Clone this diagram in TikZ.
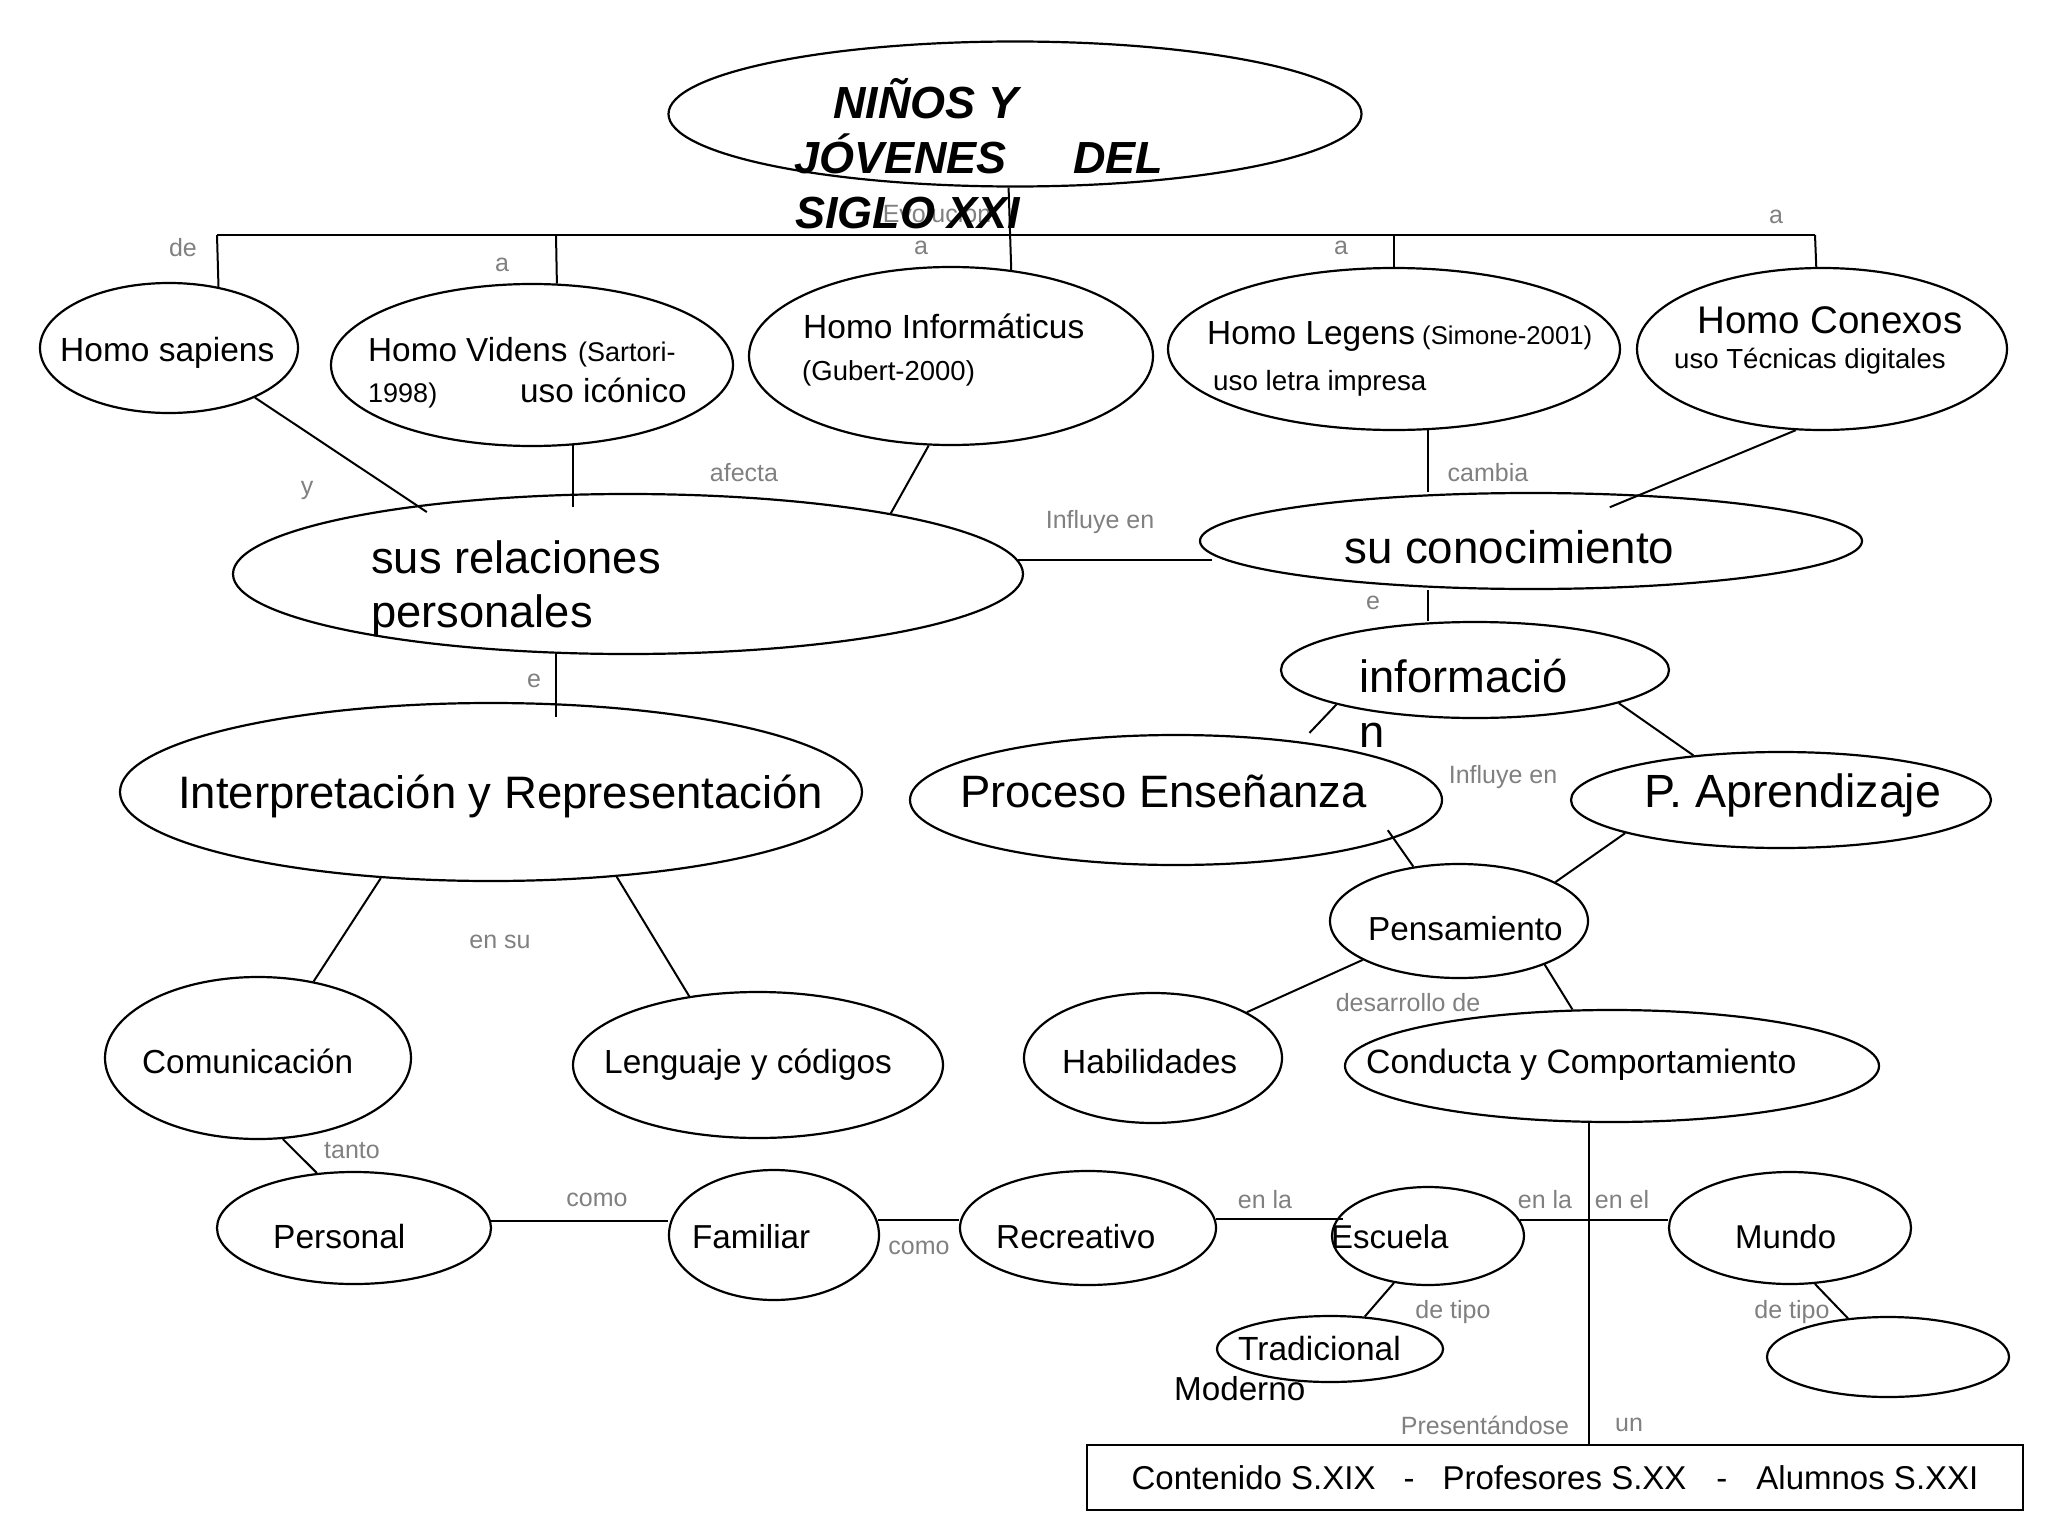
\documentclass[tikz,border=0pt]{standalone}
\usepackage{fontspec}
\setmainfont{Liberation Sans}
\usetikzlibrary{shapes.geometric}
\definecolor{labgray}{RGB}{128,128,128}
\begin{document}
\begin{tikzpicture}[x=1pt,y=-1pt,
  ell/.style={draw, ellipse, inner sep=0pt, line width=2.2pt},
  tx/.style={inner sep=0pt, anchor=base west},
  fs/.style={font=\fontsize{#1}{#1}\selectfont},
  lab/.style={inner sep=0pt, text=labgray, font=\fontsize{25}{30}\selectfont},
  conn/.style={line width=2pt},
  barline/.style={line width=2.6pt}]
\useasboundingbox (0,0) rectangle (2048,1536);

% ---------- ellipses ----------
\node[ell, minimum width=693pt, minimum height=145pt] (title) at (1015,114) {};
\node[ell, minimum width=258pt, minimum height=130pt] (hsap) at (169,348) {};
\node[ell, minimum width=402pt, minimum height=162pt] (hvid) at (532,365) {};
\node[ell, minimum width=404pt, minimum height=178pt] (hinf) at (951,356) {};
\node[ell, minimum width=452pt, minimum height=162pt] (hleg) at (1394,349) {};
\node[ell, minimum width=370pt, minimum height=162pt] (hcon) at (1822,349) {};
\node[ell, minimum width=790pt, minimum height=160pt] (rel) at (628,574) {};
\node[ell, minimum width=662pt, minimum height=96pt] (con) at (1531,541) {};
\node[ell, minimum width=388pt, minimum height=96pt] (info) at (1475,670) {};
\node[ell, minimum width=742pt, minimum height=178pt] (interp) at (491,792) {};
\node[ell, minimum width=532pt, minimum height=130pt] (proc) at (1176,800) {};
\node[ell, minimum width=420pt, minimum height=96pt] (apr) at (1781,800) {};
\node[ell, minimum width=258pt, minimum height=114pt] (pens) at (1459,921) {};
\node[ell, minimum width=258pt, minimum height=130pt] (hab) at (1153,1058) {};
\node[ell, minimum width=534pt, minimum height=112pt] (cond) at (1612,1066) {};
\node[ell, minimum width=306pt, minimum height=162pt] (com) at (258,1058) {};
\node[ell, minimum width=370pt, minimum height=146pt] (leng) at (758,1065) {};
\node[ell, minimum width=274pt, minimum height=112pt] (pers) at (354,1228) {};
\node[ell, minimum width=210pt, minimum height=130pt] (fam) at (774,1235) {};
\node[ell, minimum width=256pt, minimum height=114pt] (rec) at (1088,1228) {};
\node[ell, minimum width=192pt, minimum height=98pt] (esc) at (1428,1236) {};
\node[ell, minimum width=242pt, minimum height=112pt] (mundo) at (1790,1228) {};
\node[ell, minimum width=226pt, minimum height=66pt] (trad) at (1330,1349) {};
\node[ell, minimum width=242pt, minimum height=80pt] (empty) at (1888,1357) {};
\node[draw, line width=2.2pt, minimum width=936pt, minimum height=65pt, inner sep=0pt, fs=33] (box) at (1555,1477.5)
  {Contenido S.XIX\hspace{28pt}-\hspace{28pt}Profesores S.XX\hspace{30pt}-\hspace{29pt}Alumnos S.XXI};

% ---------- top bar ----------
\coordinate (barL) at (217,235);
\coordinate (b2) at (556,235);
\coordinate (b4) at (1394,235);
\coordinate (barR) at (1815,235);
\draw[barline] (barL) -- (barR);
\draw[conn] (barL) -- (hsap.51.5);
\draw[conn] (b2) -- (hvid.73.4);
\draw[conn] (title.-95.1) -- (hinf.55.8);
\draw[conn] (b4) -- (hleg.north);
\draw[conn] (barR) -- (hcon.94.9);

% ---------- connectors ----------
\draw[conn, shorten >=-12pt] (hsap.-30.3) -- (rel.162.3);
\draw[conn, shorten >=-14pt] (hvid.-63.7) -- (hvid.-63.7 |- rel.north);
\draw[conn] (hinf.-104.8) -- (rel.13.7);
\draw[conn, shorten >=-13pt] (rel.2.4) -- (rel.2.4 -| con.west);
\draw[conn] (hleg.-67.6) -- (hleg.-67.6 |- con.north);
\draw[conn] (hleg.-67.6 |- con.south) -- (hleg.-67.6 |- info.north);
\draw[conn, shorten >=-33pt] (hcon.252.6) -- (con.23.7);
\draw[conn, shorten >=12pt] (info.194.8) -- (proc.25.1);
\draw[conn] (info.-13.2) -- (apr.153.7);
\draw[conn, shorten <=-10pt] (proc.-10.7) -- (pens.130);
\draw[conn] (apr.192.8) -- (pens.22.9);
\draw[conn] (pens.202.9) -- (hab.26.6);
\draw[conn] (pens.-27.1) -- (cond.125.5);
\draw[conn] (cond.-112.3) -- (cond.-112.3 |- box.north);
\draw[conn] (esc.10.7) -- (esc.10.7 -| mundo.west);
\draw[conn] (pers.3.8) -- (pers.3.8 -| fam.west);
\draw[conn] (fam.8.9) -- (fam.8.9 -| rec.west);
\draw[conn, shorten >=-12pt] (rec.4.1) -- (rec.4.1 -| esc.west);
\draw[conn] (com.-73.3) -- (pers.124.9);
\draw[conn] (interp.218.5) -- (com.54.9);
\draw[conn] (interp.-34.9) -- (leng.135.4);
\draw[conn, shorten >=-15pt] (rel.-132.5) -- (rel.-132.5 |- interp.north);
\draw[conn] (esc.234.5) -- (trad.43.3);
\draw[conn] (mundo.-66.8) -- (empty.136.4);

% ---------- labels ----------
\node[lab] (l1) at (183,248) {de};
\node[lab] (l2) at (502,265) {a};
\node[lab] (l3) at (921,248) {a};
\node[lab] (l4) at (937,213) {Evolución};
\node[lab] (l5) at (1341,248) {a};
\node[lab] (l6) at (1776,217) {a};
\node[lab] (l7) at (307,490) {y};
\node[lab] (l8) at (744,473) {afecta};
\node[lab] (l9) at (1100,522) {Influye en};
\node[lab] (l10) at (1488,473) {cambia};
\node[lab] (l11) at (534,681) {e};
\node[lab] (l12) at (1373,603) {e};
\node[lab] (l13) at (1503,777) {Influye en};
\node[lab] (l14) at (500,942) {en su};
\node[lab] (l15) at (1408,1003) {desarrollo de};
\node[lab] (l16) at (352,1151) {tanto};
\node[lab] (l17) at (597,1200) {como};
\node[lab] (l18) at (919,1248) {como};
\node[lab] (l19) at (1265,1200) {en la};
\node[lab] (l20) at (1545,1200) {en la};
\node[lab] (l21) at (1622,1200) {en el};
\node[lab] (l22) at (1453,1312) {de tipo};
\node[lab] (l23) at (1792,1312) {de tipo};
\node[lab] (l24) at (1485,1425) {Presentándose};
\node[lab] (l25) at (1629,1425) {un};

% ---------- texts ----------
\begin{scope}[every node/.append style={font=\bfseries\itshape\fontsize{45}{54}\selectfont}]
\node[tx] (tt1) at (833,119) {NIÑOS Y};
\node[tx] (tt2) at (794,173) {JÓVENES};
\node[tx] (tt3) at (1073,173) {DEL};
\node[tx] (tt4) at (795,228) {SIGLO XXI};
\end{scope}
\node[tx, fs=33.5] (x1) at (60,361) {Homo sapiens};
\node[tx, fs=33.3] (x2) at (368,361) {Homo Videns};
\node[tx, fs=27] (x3) at (578,361) {(Sartori-};
\node[tx, fs=27] (x4) at (368,402) {1998)};
\node[tx, fs=33.3] (x5) at (520,402) {uso icónico};
\node[tx, fs=33.5] (x6) at (803,338) {Homo Informáticus};
\node[tx, fs=27.5] (x7) at (802,380) {(Gubert-2000)};
\node[tx, fs=33.4] (x8) at (1207,344) {Homo Legens};
\node[tx, fs=25.7] (x9) at (1422,344) {(Simone-2001)};
\node[tx, fs=27.8] (x10) at (1213,390) {uso letra impresa};
\node[tx, fs=38.5] (x11) at (1697,333) {Homo Conexos};
\node[tx, fs=27.6] (x12) at (1674,368) {uso Técnicas digitales};
\node[tx, fs=45.3] (x13) at (371,573) {sus relaciones};
\node[tx, fs=45.3] (x14) at (371,627) {personales};
\node[tx, fs=45.7] (x15) at (1344,563) {su conocimiento};
\node[tx, fs=45.3] (x16) at (1359,692) {informació};
\node[tx, fs=45.3] (x17) at (1359,747) {n};
\node[tx, fs=45.5] (x18) at (178,808) {Interpretación y Representación};
\node[tx, fs=45.4] (x19) at (960,807) {Proceso Enseñanza};
\node[tx, fs=46.6] (x20) at (1644,807) {P. Aprendizaje};
\node[tx, fs=33.3] (x21) at (1368,940) {Pensamiento};
\node[tx, fs=33.5] (x22) at (1062,1073) {Habilidades};
\node[tx, fs=33.8] (x23) at (1366,1073) {Conducta y Comportamiento};
\node[tx, fs=33.3] (x24) at (142,1073) {Comunicación};
\node[tx, fs=33.4] (x25) at (604,1073) {Lenguaje y códigos};
\node[tx, fs=33.5] (x26) at (273,1248) {Personal};
\node[tx, fs=33.2] (x27) at (692,1248) {Familiar};
\node[tx, fs=33.3] (x28) at (996,1248) {Recreativo};
\node[tx, fs=33] (x29) at (1331,1248) {Escuela};
\node[tx, fs=33] (x30) at (1735,1248) {Mundo};
\node[tx, fs=33.5] (x31) at (1238,1360) {Tradicional};
\node[tx, fs=33.2] (x32) at (1174,1400) {Moderno};
\end{tikzpicture}
\end{document}
